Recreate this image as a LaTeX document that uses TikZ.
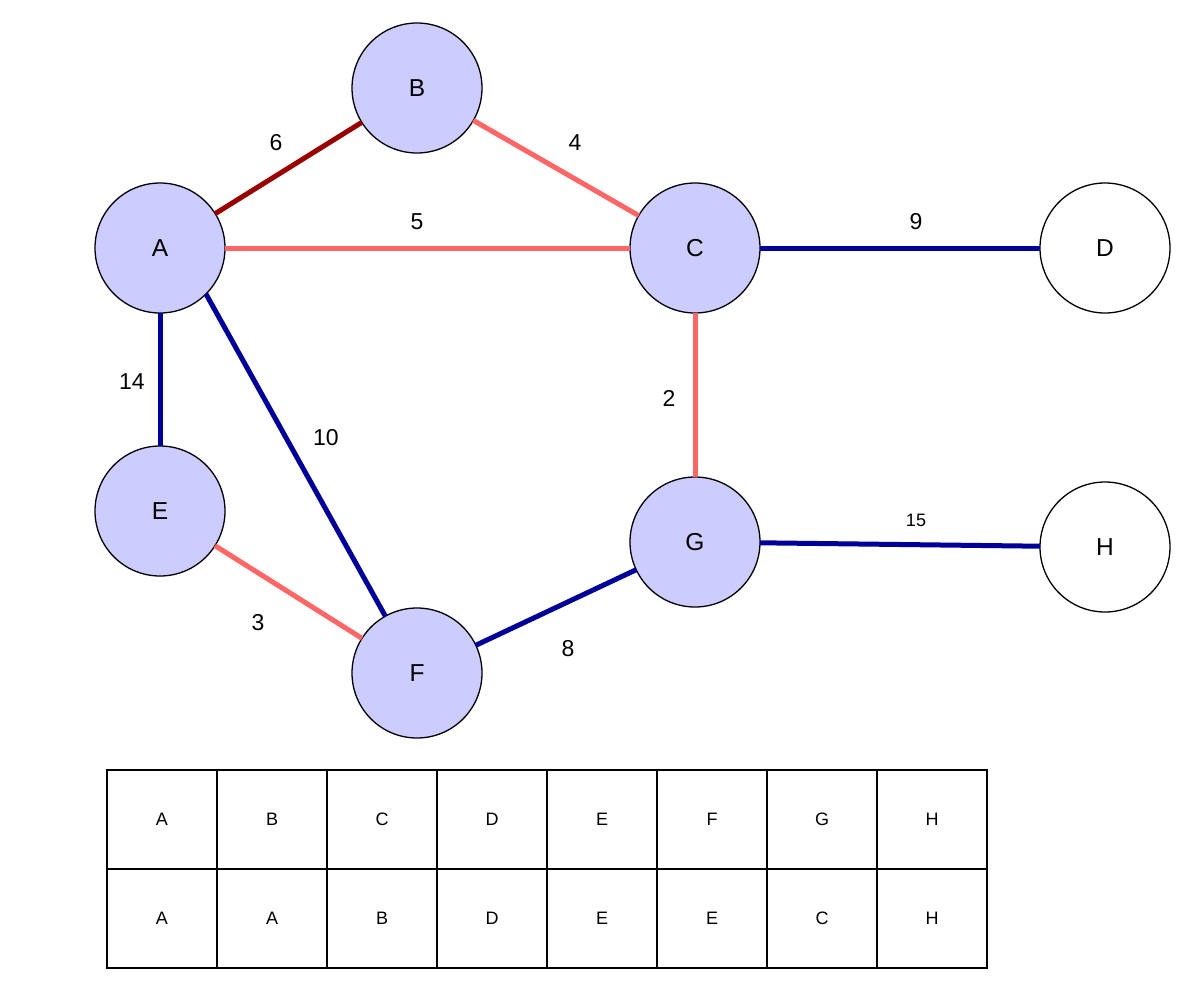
\documentclass[tikz,border=0pt]{standalone}
\usepackage{fontspec}
\setmainfont{Liberation Sans}
\definecolor{lightred}{HTML}{FF6666}
\definecolor{darkred}{HTML}{990000}
\definecolor{darkblue}{HTML}{000099}
\definecolor{lav}{HTML}{CCCCFF}
\begin{document}
\begin{tikzpicture}[x=1pt,y=-1pt,
  vert/.style={circle,draw=black,line width=1.3pt,fill=lav,minimum size=130pt,inner sep=0pt,outer sep=0pt,font=\fontsize{24.5}{28}\selectfont},
  wvert/.style={vert,fill=white},
  lr/.style={draw=lightred,line width=5pt},
  dr/.style={draw=darkred,line width=5pt},
  db/.style={draw=darkblue,line width=5pt},
  wlab/.style={inner sep=0pt,font=\fontsize{23}{27}\selectfont},
  slab/.style={inner sep=0pt,font=\fontsize{18}{21}\selectfont},
  cell/.style={draw=black,line width=1.3pt,minimum width=110pt,minimum height=99pt,inner sep=0pt,font=\fontsize{18}{21}\selectfont}]
\useasboundingbox (0,0) rectangle (1200,993);
% vertices
\node[vert] (A) at (160,248) {A};
\node[vert] (B) at (417,88) {B};
\node[vert] (C) at (695,248) {C};
\node[wvert] (D) at (1105,248) {D};
\node[vert] (E) at (160,511) {E};
\node[vert] (F) at (417,673) {F};
\node[vert] (G) at (695,542) {G};
\node[wvert] (H) at (1105,547) {H};
% edges
\draw[dr] (A) -- (B);
\draw[lr] (B) -- (C);
\draw[lr] (A) -- (C);
\draw[db] (C) -- (D);
\draw[db] (A) -- (E);
\draw[db] (A.south east) -- (F);
\draw[lr] (E) -- (F);
\draw[lr] (C) -- (G);
\draw[db] (G) -- (F);
\draw[db] (G) -- (H);
% weights
\node[wlab] (w6) at (276,143) {6};
\node[wlab] (w4) at (575,143) {4};
\node[wlab] (w5) at (417,222) {5};
\node[wlab] (w9) at (916,222) {9};
\node[wlab] (w14) at (132,382) {14};
\node[wlab] (w10) at (326,438) {10};
\node[wlab] (w2) at (669,398) {2};
\node[slab] (w15) at (916,520) {15};
\node[wlab] (w3) at (258,623) {3};
\node[wlab] (w8) at (568,649) {8};
% table
\foreach \i/\t/\b in {0/A/A,1/B/A,2/C/B,3/D/D,4/E/E,5/F/E,6/G/C,7/H/H}{
  \node[cell] (top\i) at (162+110*\i,819.5) {\t};
  \node[cell] (bot\i) at (162+110*\i,918.5) {\b};
}
\end{tikzpicture}
\end{document}
